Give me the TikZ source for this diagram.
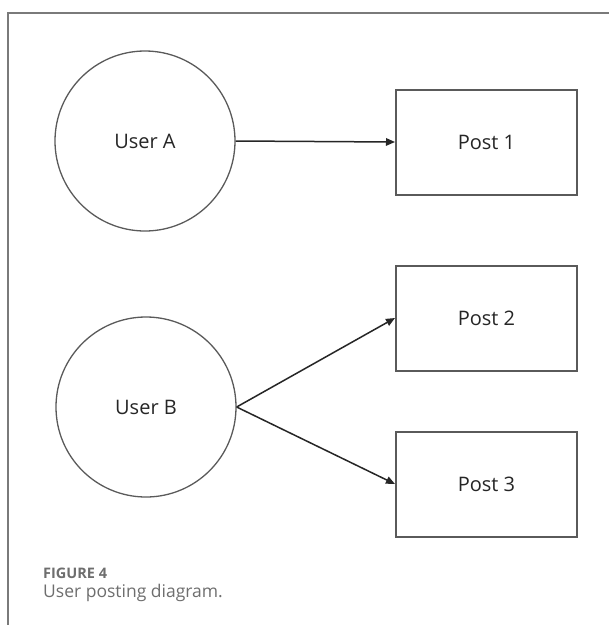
\documentclass[tikz,border=0pt]{standalone}
\usepackage{fontspec}
\setmainfont{Open Sans}
\usetikzlibrary{arrows.meta}
\definecolor{framegray}{HTML}{7A7A7A}
\definecolor{linegray}{HTML}{5A5A5A}
\definecolor{textdark}{HTML}{262626}
\definecolor{capgray}{HTML}{6E6E6E}
\tikzset{
  user/.style={circle, draw=linegray, line width=1.3pt, minimum size=180pt, inner sep=0pt,
    text=textdark, font=\fontsize{20}{23}\selectfont},
  post/.style={rectangle, draw=linegray, line width=2pt, minimum width=181pt, minimum height=105pt,
    inner sep=0pt, text=textdark, font=\fontsize{20}{23}\selectfont},
  link/.style={draw=black!85, line width=1.5pt, -{Triangle[length=9pt,width=7.5pt]}},
  frameline/.style={draw=framegray, line width=1.5pt},
  capt/.style={anchor=west, inner sep=0pt, text=capgray}
}
\begin{document}
\begin{tikzpicture}[x=1pt,y=-1pt]
\useasboundingbox (0,0) rectangle (609,625);
\fill[white] (0,0) rectangle (609,625);
\coordinate (fl) at (8,625);
\coordinate (fc) at (8,13);
\coordinate (fr) at (609,13);
\draw[frameline] (fl) -- (fc) -- (fr);
\node[user] (A) at (145,141) {User A};
\node[user] (B) at (146,407) {User B};
\node[post] (P1) at (486.5,142) {Post 1};
\node[post] (P2) at (486.5,318) {Post 2};
\node[post] (P3) at (486.5,484) {Post 3};
\draw[link] (A.east) -- (P1.west);
\draw[link] (B.east) -- (P2.west);
\draw[link] (B.east) -- (P3.west);
\node[capt, font=\fontsize{14.5}{17}\selectfont\bfseries] (cap1) at (43,573) {FIGURE 4};
\node[capt, font=\fontsize{17.5}{20}\selectfont] (cap2) at (43,593) {User posting diagram.};
\end{tikzpicture}
\end{document}
